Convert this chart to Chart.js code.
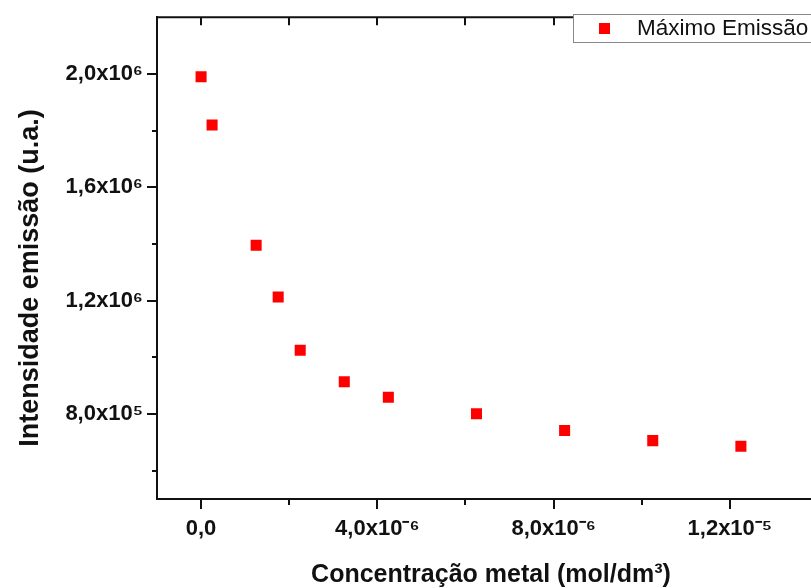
<!DOCTYPE html>
<html>
<head>
<meta charset="utf-8">
<script src="https://cdn.jsdelivr.net/npm/chart.js@4.4.1/dist/chart.umd.min.js"></script>
<style>
  html, body { margin: 0; padding: 0; background: #fff; overflow: hidden; }
  #wrap { width: 830px; height: 588px; }
</style>
</head>
<body>
<div id="wrap"><canvas id="chart" width="830" height="588"></canvas></div>
<script>
// data
var concentracao = [0, 0.25e-6, 1.25e-6, 1.75e-6, 2.25e-6, 3.25e-6, 4.25e-6, 6.25e-6, 8.25e-6, 10.25e-6, 12.25e-6];
var intensidade = [1.99e6, 1.82e6, 1.395e6, 1.213e6, 1.025e6, 0.914e6, 0.859e6, 0.801e6, 0.742e6, 0.706e6, 0.686e6];

var xTickValues = [0, 2e-6, 4e-6, 6e-6, 8e-6, 10e-6, 12e-6, 14e-6];
var xTickLabels = ['0,0', '', '4,0x10⁻⁶', '', '8,0x10⁻⁶', '', '1,2x10⁻⁵', ''];
var yTickValues = [6e5, 8e5, 1.0e6, 1.2e6, 1.4e6, 1.6e6, 1.8e6, 2.0e6];
var yTickLabels = ['', '8,0x10⁵', '', '1,2x10⁶', '', '1,6x10⁶', '', '2,0x10⁶'];

var serieNome = 'Máximo Emissão';
var tituloX = 'Concentração metal (mol/dm³)';
var tituloY = 'Intensidade emissão (u.a.)';

var tickFont = "'Liberation Sans', Arial, sans-serif";
var titleFont = "'Liberation Sans', Arial, sans-serif";

var points = [];
for (let i = 0; i < concentracao.length; i++) {
    points.push({ x: concentracao[i], y: intensidade[i] });
}

// tick marks, top axis, axis titles and legend box drawn by hand
var extras = {
    id: 'extras',
    afterDraw: function (chart) {
        var ctx = chart.ctx;
        var area = chart.chartArea;
        var xs = chart.scales.x;
        var ys = chart.scales.y;
        ctx.save();
        ctx.strokeStyle = '#111';
        ctx.lineWidth = 2;
        ctx.beginPath();
        ctx.moveTo(area.left - 1, area.top);
        ctx.lineTo(area.right, area.top);
        ctx.lineTo(area.right, area.bottom);
        for (let i = 0; i < yTickValues.length; i++) {
            var py = Math.round(ys.getPixelForValue(yTickValues[i]));
            var len = yTickLabels[i] ? 10 : 5;
            ctx.moveTo(area.left - len, py);
            ctx.lineTo(area.left, py);
        }
        for (let i = 0; i < xTickValues.length; i++) {
            var px = Math.round(xs.getPixelForValue(xTickValues[i]));
            var len2 = xTickLabels[i] ? 10 : 6;
            ctx.moveTo(px, area.bottom);
            ctx.lineTo(px, area.bottom + len2);
            ctx.moveTo(px, area.top);
            ctx.lineTo(px, area.top + 8);
        }
        ctx.stroke();

        // axis titles
        ctx.fillStyle = '#111';
        ctx.textAlign = 'center';
        ctx.textBaseline = 'alphabetic';
        ctx.font = "bold 25px " + titleFont;
        ctx.fillText(tituloX, 491, 582);
        ctx.save();
        ctx.translate(38, 278);
        ctx.rotate(-Math.PI / 2);
        ctx.font = "bold 27px " + titleFont;
        ctx.fillText(tituloY, 0, 0);
        ctx.restore();

        // legend
        var lx = 573, ly = 14, lw = 260, lh = 28;
        ctx.fillStyle = '#fff';
        ctx.fillRect(lx, ly, lw, lh);
        ctx.strokeStyle = '#888';
        ctx.lineWidth = 1;
        ctx.strokeRect(lx + 0.5, ly + 0.5, lw, lh);
        ctx.fillStyle = '#ff0000';
        ctx.fillRect(599, 23, 11, 11);
        ctx.fillStyle = '#111';
        ctx.textAlign = 'left';
        ctx.textBaseline = 'middle';
        ctx.font = "22.5px " + titleFont;
        ctx.fillText(chart.data.datasets[0].label, 637, 29);
        ctx.restore();
    }
};

var ctx = document.getElementById('chart').getContext('2d');
var chart = new Chart(ctx, {
    type: 'scatter',
    data: {
        datasets: [{
            label: serieNome,
            data: points,
            pointStyle: 'rect',
            pointRadius: 7.8,
            pointHoverRadius: 7.8,
            backgroundColor: '#ff0000',
            borderColor: '#ff0000',
            borderWidth: 0
        }]
    },
    options: {
        responsive: false,
        animation: false,
        events: [],
        layout: { padding: { top: 13, right: 12, left: 8, bottom: 0 } },
        plugins: {
            legend: { display: false },
            tooltip: { enabled: false }
        },
        scales: {
            x: {
                type: 'linear',
                min: -1e-6,
                max: 14e-6,
                afterBuildTicks: function (scale) {
                    scale.ticks = xTickValues.map(function (v) { return { value: v }; });
                },
                afterFit: function (scale) { scale.height = 89; },
                grid: { display: true, color: 'transparent', drawOnChartArea: false, tickLength: 10 },
                border: { display: true, color: '#111', width: 2 },
                ticks: {
                    autoSkip: false,
                    maxRotation: 0,
                    padding: 7,
                    color: '#111',
                    font: { family: tickFont, size: 22, weight: 'bold' },
                    callback: function (value, index) { return xTickLabels[index]; }
                },
                title: { display: false }
            },
            y: {
                type: 'linear',
                min: 5e5,
                max: 2.2e6,
                afterBuildTicks: function (scale) {
                    scale.ticks = yTickValues.map(function (v) { return { value: v }; });
                },
                afterFit: function (scale) { scale.width = 149; },
                grid: { display: true, color: 'transparent', drawOnChartArea: false, tickLength: 10 },
                border: { display: true, color: '#111', width: 2 },
                ticks: {
                    autoSkip: false,
                    padding: 4,
                    color: '#111',
                    font: { family: tickFont, size: 22, weight: 'bold' },
                    callback: function (value, index) { return yTickLabels[index]; }
                },
                title: { display: false }
            }
        }
    },
    plugins: [extras]
});
</script>
</body>
</html>
